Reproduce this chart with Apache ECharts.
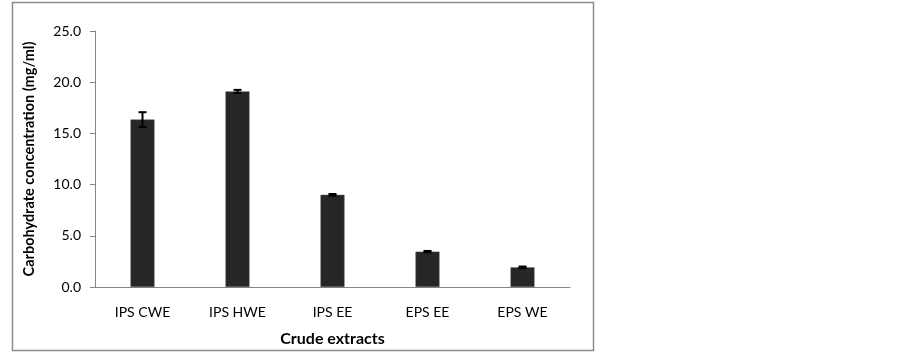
<!DOCTYPE html>
<html><head><meta charset="utf-8">
<script src="https://cdn.jsdelivr.net/npm/echarts@6/dist/echarts.min.js"></script>
<style>html,body{margin:0;padding:0;background:#fff}#c{width:902px;height:355px}</style>
</head><body><div id="c"></div>
<script>
const categories = ['IPS CWE', 'IPS HWE', 'IPS EE', 'EPS EE', 'EPS WE'];
const values = [16.35, 19.1, 9.0, 3.45, 1.92];
const errors = [0.72, 0.15, 0.08, 0.07, 0.08];
const yTicks = [0, 5, 10, 15, 20, 25];

const chart = echarts.init(document.getElementById('c'));
const font = 'Lato, "Open Sans", sans-serif';
chart.setOption({
  animation: false,
  graphic: [{
    type: 'rect', shape: { x: 12.5, y: 2.5, width: 581, height: 348 },
    style: { fill: 'none', stroke: '#8c8c8c', lineWidth: 1.5 }, silent: true
  }],
  grid: { left: 95, right: 332, top: 31, bottom: 68 },
  xAxis: {
    type: 'category', data: categories,
    axisLine: { lineStyle: { color: '#868686', width: 1 } },
    axisTick: { show: false },
    axisLabel: { color: '#000', fontFamily: font, fontSize: 14, margin: 18 },
    name: 'Crude extracts', nameLocation: 'middle', nameGap: 44,
    nameTextStyle: { color: '#000', fontFamily: font, fontSize: 16, fontWeight: 'bold' }
  },
  yAxis: {
    type: 'value', min: yTicks[0], max: yTicks[yTicks.length - 1], interval: 5,
    axisLine: { show: true, lineStyle: { color: '#868686', width: 1 } },
    axisTick: { show: true, length: 5, lineStyle: { color: '#868686' } },
    splitLine: { show: false },
    axisLabel: { color: '#000', fontFamily: font, fontSize: 14, margin: 14,
      formatter: v => v.toFixed(1) },
    name: 'Carbohydrate concentration (mg/ml)', nameLocation: 'middle', nameGap: 58,
    nameTextStyle: { color: '#000', fontFamily: font, fontSize: 14.5, fontWeight: 'bold' }
  },
  series: [{
    type: 'bar', data: values, barWidth: 24,
    itemStyle: { color: '#262626', borderColor: '#555', borderWidth: 0.5 }
  }, {
    type: 'custom',
    data: values.map((v, i) => [i, v - errors[i], v + errors[i]]),
    renderItem: function (params, api) {
      const lo = api.coord([api.value(0), api.value(1)]);
      const hi = api.coord([api.value(0), api.value(2)]);
      const x = lo[0], hw = 4;
      const st = { stroke: '#000', lineWidth: 2 };
      return { type: 'group', children: [
        { type: 'line', shape: { x1: x, y1: lo[1], x2: x, y2: hi[1] }, style: st },
        { type: 'line', shape: { x1: x - hw, y1: lo[1], x2: x + hw, y2: lo[1] }, style: st },
        { type: 'line', shape: { x1: x - hw, y1: hi[1], x2: x + hw, y2: hi[1] }, style: st }
      ] };
    },
    z: 5
  }]
});
</script></body></html>
